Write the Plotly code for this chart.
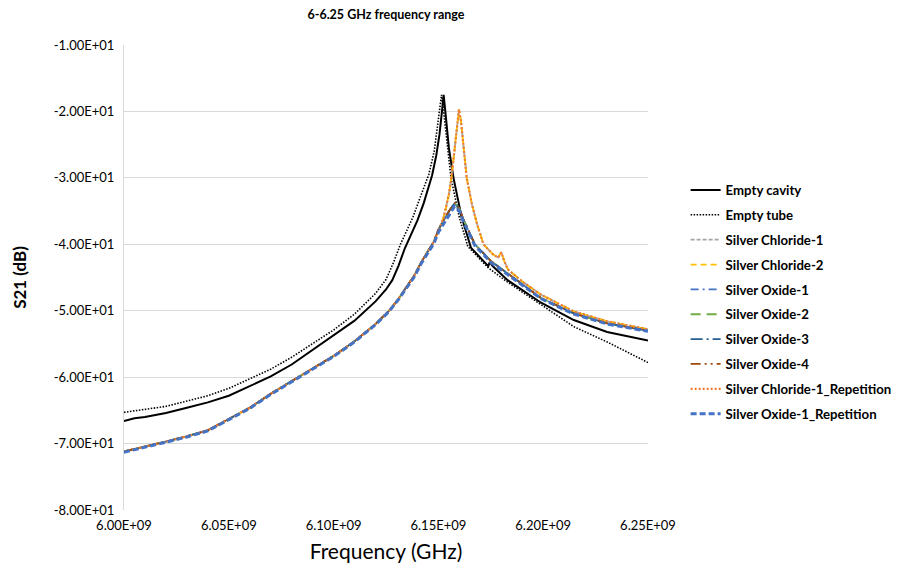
import plotly.graph_objects as go

# ---------------- data (frequency in GHz, S21 in dB) ----------------
cavity_f = [6.000, 6.005, 6.010, 6.015, 6.020, 6.030, 6.040, 6.050, 6.060, 6.070,
            6.080, 6.090, 6.100, 6.110, 6.120, 6.125, 6.128, 6.131, 6.134, 6.137,
            6.140, 6.143, 6.145, 6.147, 6.149, 6.1505, 6.1517, 6.1525, 6.1533, 6.1550,
            6.1572, 6.1610, 6.1655, 6.1700, 6.1738, 6.1745, 6.1760, 6.1830, 6.1990, 6.2146,
            6.2305, 6.2500]
cavity_db = [-66.6, -66.2, -66.0, -65.7, -65.4, -64.6, -63.8, -62.8, -61.4, -59.9,
             -58.1, -55.9, -53.8, -51.5, -48.6, -46.8, -45.4, -43.2, -40.6, -38.5,
             -36.4, -33.8, -31.8, -29.6, -26.6, -23.5, -20.0, -17.5, -20.0, -25.5,
             -30.0, -35.8, -40.5, -42.0, -43.3, -42.7, -43.3, -45.4, -48.8, -51.4,
             -53.2, -54.5]

tube_f = [6.000, 6.010, 6.020, 6.030, 6.040, 6.050, 6.060, 6.070, 6.080, 6.090,
          6.100, 6.110, 6.120, 6.125, 6.1285, 6.1319, 6.135, 6.138, 6.141, 6.1435,
          6.1454, 6.1480, 6.1503, 6.1515, 6.1525, 6.1545, 6.1560, 6.1600, 6.1640, 6.1700,
          6.1740, 6.1830, 6.1990, 6.2146, 6.2305, 6.2500]
tube_db = [-65.3, -64.9, -64.4, -63.6, -62.8, -61.7, -60.3, -58.8, -57.0, -54.9,
           -52.9, -50.5, -47.4, -45.3, -42.8, -40.0, -37.9, -35.8, -33.2, -31.2,
           -29.5, -26.0, -20.0, -17.5, -20.0, -25.5, -30.0, -36.0, -40.3, -42.3,
           -43.6, -45.7, -49.1, -52.4, -54.7, -57.8]

chloride_f = [6.000, 6.010, 6.020, 6.030, 6.040, 6.050, 6.060, 6.070, 6.080, 6.090,
              6.100, 6.110, 6.120, 6.1265, 6.131, 6.135, 6.1383, 6.142, 6.145, 6.1478,
              6.150, 6.1525, 6.155, 6.1562, 6.1578, 6.1590, 6.1598, 6.1608, 6.1620, 6.1635,
              6.1660, 6.1685, 6.1715, 6.1760, 6.1785, 6.1800, 6.1815, 6.1832, 6.1900, 6.1990,
              6.2146, 6.2305, 6.2500]
chloride_db = [-71.2, -70.5, -69.7, -68.9, -68.0, -66.3, -64.6, -62.5, -60.6, -58.8,
               -56.8, -54.6, -52.0, -50.0, -48.2, -46.3, -44.8, -42.6, -41.0, -39.6,
               -38.0, -36.0, -32.5, -30.0, -25.5, -22.0, -19.7, -21.5, -25.5, -30.0,
               -34.0, -37.0, -40.0, -41.5, -42.0, -41.2, -42.6, -43.8, -45.6, -47.6,
               -50.1, -51.6, -52.8]

oxide_f = [6.000, 6.010, 6.020, 6.030, 6.040, 6.050, 6.060, 6.070, 6.080, 6.090,
           6.100, 6.110, 6.120, 6.1265, 6.131, 6.135, 6.1383, 6.142, 6.145, 6.1478,
           6.150, 6.1549, 6.1577, 6.160, 6.1620, 6.1674, 6.1753, 6.1832, 6.1990, 6.2146,
           6.2305, 6.2500]
oxide_db = [-71.2, -70.5, -69.7, -68.9, -68.0, -66.3, -64.6, -62.5, -60.6, -58.8,
            -56.8, -54.6, -52.0, -50.0, -48.2, -46.3, -44.8, -42.6, -41.0, -39.6,
            -37.8, -35.1, -33.8, -34.6, -36.3, -40.0, -42.6, -44.4, -48.1, -50.4,
            -51.9, -53.0]
oxide_rep_db = [-71.3, -70.6, -69.8, -69.0, -68.1, -66.4, -64.7, -62.6, -60.7, -58.9,
                -56.9, -54.7, -52.1, -50.1, -48.3, -46.5, -45.0, -42.8, -41.2, -39.9,
                -38.2, -35.6, -34.3, -35.0, -36.6, -40.2, -42.8, -44.6, -48.2, -50.5,
                -52.0, -53.1]

x_tickvals = [6.00, 6.05, 6.10, 6.15, 6.20, 6.25]
x_ticktext = ["6.00E+09", "6.05E+09", "6.10E+09", "6.15E+09", "6.20E+09", "6.25E+09"]
y_tickvals = [-10, -20, -30, -40, -50, -60, -70, -80]
y_ticktext = ["-1.00E+01", "-2.00E+01", "-3.00E+01", "-4.00E+01",
              "-5.00E+01", "-6.00E+01", "-7.00E+01", "-8.00E+01"]

series = [
    ("Empty cavity", cavity_f, cavity_db, "#000000", "solid", 2.0),
    ("Empty tube", tube_f, tube_db, "#000000", "1.5px,1.5px", 1.6),
    ("Silver Chloride-1", chloride_f, chloride_db, "#A5A5A5", "4px,2px", 1.8),
    ("Silver Chloride-2", chloride_f, chloride_db, "#FFC000", "6px,4px", 1.8),
    ("Silver Oxide-1", oxide_f, oxide_db, "#4472C4", "8px,4px,2px,4px", 1.8),
    ("Silver Oxide-2", oxide_f, oxide_db, "#70AD47", "10px,6px", 1.8),
    ("Silver Oxide-3", oxide_f, oxide_db, "#255E91", "12px,4px,2px,4px", 1.8),
    ("Silver Oxide-4", oxide_f, oxide_db, "#9E480E", "10px,4px,2px,4px,2px,4px", 1.8),
    ("Silver Chloride-1_Repetition", chloride_f, chloride_db, "#ED7D31", "2px,2px", 2.2),
    ("Silver Oxide-1_Repetition", oxide_f, oxide_rep_db, "#4472C4", "6px,3px", 3.0),
]

FONT = "Lato"

fig = go.Figure()
for i, (name, fx, fy, color, dash, width) in enumerate(series):
    fig.add_trace(go.Scatter(
        x=fx, y=fy, mode="lines", name=name, legendgroup=f"g{i}",
        line=dict(color=color, dash=dash, width=width),
    ))

# page body adds an 8px offset; figure is shifted accordingly
W, H = 904, 565
fig.update_layout(
    width=W, height=H,
    margin=dict(l=111, r=W - 111 - 529, t=37, b=63),
    paper_bgcolor="white", plot_bgcolor="white",
    font=dict(family=FONT, color="#000000"),
    title=dict(text="6-6.25 GHz frequency range", x=0.5, xref="paper",
               y=1 - 7 / H, yref="container", xanchor="center", yanchor="middle",
               font=dict(family=FONT, size=12.5, color="#000000", weight="bold")),
    legend=dict(x=1.0718, y=0.7207, xanchor="left", yanchor="top",
                font=dict(family=FONT, size=13.2, color="#000000", weight="bold"),
                itemwidth=30, tracegroupgap=4.7, bgcolor="rgba(0,0,0,0)"),
    showlegend=True,
)
fig.update_xaxes(
    range=[6.0, 6.25], tickvals=x_tickvals, ticktext=x_ticktext,
    showgrid=False, zeroline=False, showline=False,
    ticks="outside", ticklen=3, tickcolor="rgba(0,0,0,0)",
    tickfont=dict(family=FONT, size=13, color="#000000"),
    title=dict(text="Frequency (GHz)", standoff=12,
               font=dict(family=FONT, size=21, color="#000000")),
)
fig.update_yaxes(
    range=[-80, -10], tickvals=y_tickvals, ticktext=y_ticktext,
    showgrid=True, gridcolor="#D9D9D9", gridwidth=1, zeroline=False,
    showline=True, linecolor="#D9D9D9", linewidth=1,
    ticks="outside", ticklen=6, tickcolor="rgba(0,0,0,0)",
    tickfont=dict(family=FONT, size=13, color="#000000"),
    title=dict(text="S21 (dB)", standoff=22,
               font=dict(family=FONT, size=17, color="#000000", weight="bold")),
)

fig.write_html("out.html")
